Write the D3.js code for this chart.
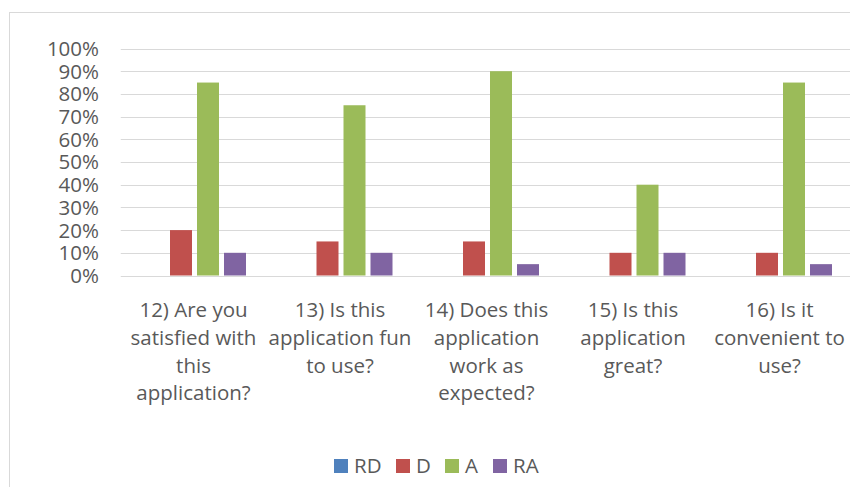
<!DOCTYPE html>
<html>
<head>
<meta charset="utf-8">
<script src="https://cdn.jsdelivr.net/npm/d3@7"></script>
<style>
  html, body { margin: 0; padding: 0; background: #fff; }
  svg { display: block; font-family: "Open Sans", Lato, sans-serif; }
</style>
</head>
<body>
<svg id="chart" width="850" height="487"></svg>
<script>
// Survey questions (x categories)
const categories = [
  ["12) Are you", "satisfied with", "this", "application?"],
  ["13) Is this", "application fun", "to use?"],
  ["14) Does this", "application", "work as", "expected?"],
  ["15) Is this", "application", "great?"],
  ["16) Is it", "convenient to", "use?"]
];
const seriesNames = ["RD", "D", "A", "RA"];
const seriesColors = ["#4F81BD", "#C0504D", "#9BBB59", "#8064A2"];
// Share of answers per question, in percent
const valuesRD = [0, 0, 0, 0, 0];
const valuesD  = [20, 15, 15, 10, 10];
const valuesA  = [85, 75, 90, 40, 85];
const valuesRA = [10, 10, 5, 10, 5];
const yTicks = [0, 10, 20, 30, 40, 50, 60, 70, 80, 90, 100];

const seriesValues = [valuesRD, valuesD, valuesA, valuesRA];
const rows = categories.map((c, i) => ({ idx: i, vals: seriesValues.map(s => s[i]) }));

const svg = d3.select("#chart");
const textColor = "#595959";
const fontSize = 20.5;

// Outer chart frame
svg.append("rect")
  .attr("x", 9.5).attr("y", 12.5)
  .attr("width", 900).attr("height", 600)
  .attr("fill", "none").attr("stroke", "#d9d9d9").attr("stroke-width", 1);

const plotLeft = 121.25, plotRight = 853.75, plotTop = 48.5, plotBottom = 275.5;

const x0 = d3.scaleBand().domain(d3.range(categories.length)).range([plotLeft, plotRight]).paddingInner(0).paddingOuter(0);
const y = d3.scaleLinear().domain([0, 100]).range([plotBottom, plotTop]);

const groupWidth = 103;
const x1 = d3.scaleBand().domain(d3.range(seriesNames.length)).range([0, groupWidth]).paddingInner(5 / 27).paddingOuter(0);

// Horizontal gridlines
svg.append("g").selectAll("line").data(yTicks).join("line")
  .attr("x1", plotLeft - 0.5).attr("x2", 850)
  .attr("y1", d => Math.round(y(d)) + 0.5).attr("y2", d => Math.round(y(d)) + 0.5)
  .attr("stroke", "#d9d9d9").attr("stroke-width", 1.2);

// Y axis labels
const yAxis = d3.axisLeft(y).tickValues(yTicks).tickFormat(d => d + "%").tickSize(0).tickPadding(0);
const yg = svg.append("g").attr("transform", `translate(99,0)`).call(yAxis);
yg.select(".domain").remove();
yg.selectAll("text").attr("fill", textColor).attr("font-size", fontSize).attr("dy", "0.34em")
  .style("font-family", "'Open Sans', Lato, sans-serif");

// Bars
const groups = svg.append("g").selectAll("g").data(rows).join("g")
  .attr("transform", d => `translate(${x0(d.idx) + x0.bandwidth() / 2 - groupWidth / 2},0)`);
groups.selectAll("rect").data(d => d.vals.map((v, k) => ({ v, k }))).join("rect")
  .attr("x", d => x1(d.k))
  .attr("width", x1.bandwidth())
  .attr("y", d => y(d.v))
  .attr("height", d => y(0) - y(d.v))
  .attr("fill", d => seriesColors[d.k]);

// Category labels (wrapped lines)
const xl = svg.append("g").selectAll("text").data(rows).join("text")
  .attr("text-anchor", "middle")
  .attr("fill", textColor)
  .attr("font-size", fontSize)
  .attr("x", d => x0(d.idx) + x0.bandwidth() / 2 - 1);
xl.selectAll("tspan").data(d => categories[d.idx].map((t, j) => ({ t, j, cx: x0(d.idx) + x0.bandwidth() / 2 - 1 }))).join("tspan")
  .attr("x", d => d.cx)
  .attr("y", d => 317 + d.j * 27.8)
  .text(d => d.t);

// Legend
const legendItems = [
  { name: seriesNames[0], color: seriesColors[0], x: 334 },
  { name: seriesNames[1], color: seriesColors[1], x: 396 },
  { name: seriesNames[2], color: seriesColors[2], x: 445 },
  { name: seriesNames[3], color: seriesColors[3], x: 493 }
];
const lg = svg.append("g").selectAll("g").data(legendItems).join("g")
  .attr("transform", d => `translate(${d.x},0)`);
lg.append("rect").attr("x", 0).attr("y", 459).attr("width", 14).attr("height", 14).attr("fill", d => d.color);
lg.append("text").attr("x", 20).attr("y", 473).attr("fill", textColor).attr("font-size", fontSize).text(d => d.name);
</script>
</body>
</html>
